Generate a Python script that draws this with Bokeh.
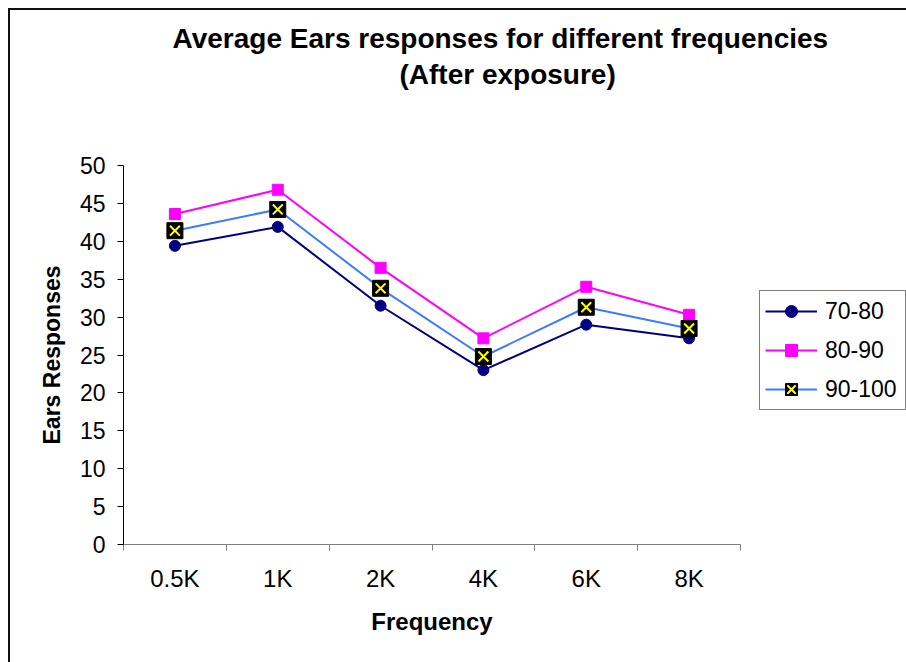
from bokeh.plotting import figure
from bokeh.models import FixedTicker, Legend, LegendItem, Range1d, Title
from bokeh.embed import file_html
from bokeh.resources import INLINE

freqs = ["0.5K", "1K", "2K", "4K", "6K", "8K"]
s70_80 = [39.4, 41.9, 31.5, 23.0, 29.0, 27.2]
s80_90 = [43.6, 46.8, 36.5, 27.2, 34.0, 30.3]
s90_100 = [41.4, 44.2, 33.8, 24.8, 31.3, 28.5]
series_names = ["70-80", "80-90", "90-100"]
y_ticks = [0, 5, 10, 15, 20, 25, 30, 35, 40, 45, 50]

xs = [i + 0.5 for i in range(len(freqs))]
FONT = "Liberation Sans"

p = figure(frame_width=617, frame_height=379, output_backend="svg", toolbar_location=None,
           x_range=Range1d(0, len(freqs)), y_range=Range1d(0, 50),
           min_border_left=113, min_border_right=166, min_border_top=155, min_border_bottom=118,
           styles={"margin-left": "8px", "margin-top": "8px",
                   "border-left": "2px solid #111", "border-top": "2px solid #111"})
p.outline_line_color = None
p.xgrid.grid_line_color = None
p.ygrid.grid_line_color = None
p.background_fill_color = "white"
p.border_fill_color = "white"

p.title = None
spacer = Title(text=" ", text_font=FONT, text_font_size="1px", standoff=70)
t2 = Title(text="(After exposure)", align="left", offset=276, text_color="black",
           text_font=FONT, text_font_size="28px", text_font_style="bold", standoff=6)
t1 = Title(text="Average Ears responses for different frequencies", align="left", offset=49,
           text_color="black",
           text_font=FONT, text_font_size="28px", text_font_style="bold", standoff=0)
p.add_layout(spacer, "above")
p.add_layout(t2, "above")
p.add_layout(t1, "above")

# x axis
p.xaxis.ticker = FixedTicker(ticks=xs, minor_ticks=list(range(len(freqs) + 1)))
p.xaxis.major_label_overrides = {x: f for x, f in zip(xs, freqs)}
p.xaxis.major_tick_line_color = None
p.xaxis.major_tick_out = 0
p.xaxis.minor_tick_out = 6
p.xaxis.minor_tick_in = 0
p.xaxis.minor_tick_line_color = "#808080"
p.xaxis.axis_line_color = "#808080"
p.xaxis.major_label_standoff = 14
p.xaxis.major_label_text_font = FONT
p.xaxis.major_label_text_font_size = "24px"
p.xaxis.major_label_text_color = "black"
p.xaxis.axis_label = "Frequency"
p.xaxis.axis_label_text_font = FONT
p.xaxis.axis_label_text_font_size = "24px"
p.xaxis.axis_label_text_font_style = "bold"
p.xaxis.axis_label_text_color = "black"
p.xaxis.axis_label_standoff = 13

# y axis
p.yaxis.ticker = FixedTicker(ticks=y_ticks)
p.yaxis.minor_tick_line_color = None
p.yaxis.major_tick_out = 6
p.yaxis.major_tick_in = 0
p.yaxis.major_tick_line_color = "black"
p.yaxis.axis_line_color = "black"
p.yaxis.major_label_standoff = 12
p.yaxis.major_label_text_font = FONT
p.yaxis.major_label_text_font_size = "23px"
p.yaxis.major_label_text_color = "black"
p.yaxis.axis_label = "Ears Responses"
p.yaxis.axis_label_text_font = FONT
p.yaxis.axis_label_text_font_size = "23px"
p.yaxis.axis_label_text_font_style = "bold"
p.yaxis.axis_label_text_color = "black"
p.yaxis.axis_label_standoff = 12

l1 = p.line(xs, s70_80, line_color="#000080", line_width=2)
m1 = p.scatter(xs, s70_80, marker="circle", size=11, fill_color="#000080", line_color="#000080")
l2 = p.line(xs, s80_90, line_color="#FF00FF", line_width=2)
m2 = p.scatter(xs, s80_90, marker="square", size=11, fill_color="#FF00FF", line_color="#FF00FF")
l3 = p.line(xs, s90_100, line_color="#3A7BFF", line_width=2)
m3 = p.scatter(xs, s90_100, marker="square", size=16, fill_color="black", line_color="black")
m3x = p.scatter(xs, s90_100, marker="x", size=14, line_color="#FFFF00", line_width=2)

legend = Legend(items=[
    LegendItem(label=series_names[0], renderers=[l1, m1]),
    LegendItem(label=series_names[1], renderers=[l2, m2]),
    LegendItem(label=series_names[2], renderers=[l3, m3, m3x]),
], location=(19, 134), orientation="vertical")
legend.border_line_color = "black"
legend.border_line_width = 1
legend.background_fill_alpha = 1
legend.label_text_font = FONT
legend.label_text_font_size = "23px"
legend.label_text_color = "black"
legend.glyph_width = 52
legend.glyph_height = 30
legend.label_height = 30
legend.label_width = 75
legend.label_standoff = 8
legend.spacing = 9
legend.padding = 5
legend.margin = 0
p.add_layout(legend, "right")

open("out.html", "w").write(file_html(p, INLINE))
